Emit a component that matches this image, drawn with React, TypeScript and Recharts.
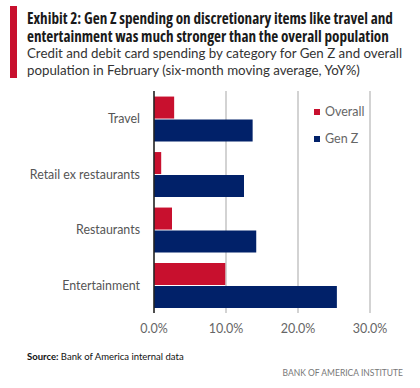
import React from 'react';
import { BarChart, Bar, XAxis, YAxis, CartesianGrid } from 'recharts';

const categories = ['Travel', 'Retail ex restaurants', 'Restaurants', 'Entertainment'];
const overall = [2.8, 1.0, 2.5, 9.9];
const genZ = [13.7, 12.5, 14.2, 25.4];
const xTicks = [0, 10, 20, 30];

const RED = '#c8102e';
const NAVY = '#012169';
const BODY = 'Lato, sans-serif';
const HEAD = "'Open Sans', sans-serif";

const data = categories.map((name, i) => ({ name, overall: overall[i], genZ: genZ[i] }));

export default function App() {
  return (
    <div style={{ position: 'absolute', left: 0, top: 0, width: 420, height: 388, background: '#fff', fontFamily: BODY }}>
      {/* red accent bar */}
      <div style={{ position: 'absolute', left: 10, top: 6, width: 7, height: 72, background: RED }} />
      <div style={{ position: 'absolute', left: 27, top: 9, width: 393, whiteSpace: 'nowrap' }}>
        <div style={{ fontFamily: HEAD, fontStretch: 'condensed', fontSize: 15.2, lineHeight: '18px', fontWeight: 'bold', color: '#1a1a1a' }}>
          Exhibit 2: Gen Z spending on discretionary items like travel and
          <br />
          entertainment was much stronger than the overall population
        </div>
        <div style={{ fontSize: 13.3, lineHeight: '17px', color: '#333' }}>
          Credit and debit card spending by category for Gen Z and overall
          <br />
          population in February (six-month moving average, YoY%)
        </div>
      </div>

      <div style={{ position: 'absolute', left: 0, top: 0 }}>
        <BarChart
          width={420}
          height={345}
          data={data}
          layout="vertical"
          margin={{ top: 91, right: 50, left: 0, bottom: 0 }}
          barCategoryGap="10%"
          barGap={1}
        >
          <CartesianGrid horizontal={false} stroke="#c4c4c4" strokeWidth={1.5} />
          <XAxis
            type="number"
            domain={[0, 30]}
            ticks={xTicks}
            tickFormatter={(v: number) => `${v.toFixed(1)}%`}
            axisLine={false}
            tickLine={false}
            height={32}
            tickMargin={5}
            tick={{ fill: '#666', fontSize: 12.5, fontFamily: BODY }}
          />
          <YAxis
            type="category"
            dataKey="name"
            width={154}
            tickLine={false}
            axisLine={{ stroke: '#222', strokeWidth: 1.5 }}
            tickMargin={8}
            tick={{ fill: '#555', fontSize: 12.4, fontFamily: BODY }}
          />
          <Bar dataKey="overall" fill={RED} isAnimationActive={false} />
          <Bar dataKey="genZ" fill={NAVY} isAnimationActive={false} />
        </BarChart>
      </div>

      {/* legend */}
      <div style={{ position: 'absolute', left: 314, top: 103, fontSize: 12.5, color: '#666', lineHeight: '18px' }}>
        <div style={{ display: 'flex', alignItems: 'center', height: 18 }}>
          <span style={{ width: 6, height: 6, background: RED, marginRight: 5, display: 'inline-block' }} />
          Overall
        </div>
        <div style={{ display: 'flex', alignItems: 'center', height: 18, marginTop: 9 }}>
          <span style={{ width: 6, height: 6, background: NAVY, marginRight: 5, display: 'inline-block' }} />
          Gen Z
        </div>
      </div>

      <div style={{ position: 'absolute', left: 27, top: 351, fontSize: 9.5, color: '#111' }}>
        <b>Source:</b> Bank of America internal data
      </div>
      <div style={{ position: 'absolute', right: 17, top: 368, fontSize: 8.5, color: '#777' }}>
        BANK OF AMERICA INSTITUTE
      </div>
    </div>
  );
}
